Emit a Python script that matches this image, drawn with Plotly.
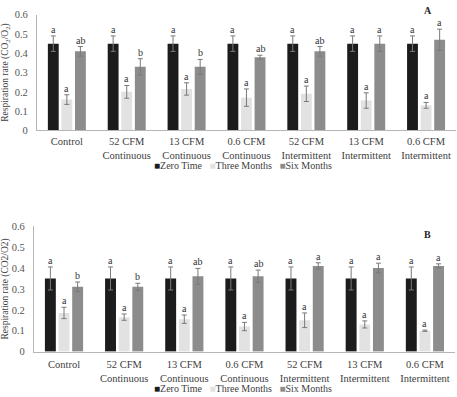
import plotly.graph_objects as go

categories = ["Control", "52 CFM<br>Continuous", "13 CFM<br>Continuous", "0.6 CFM<br>Continuous",
              "52 CFM<br>Intermittent", "13 CFM<br>Intermittent", "0.6 CFM<br>Intermittent"]
series_names = ["Zero Time", "Three Months", "Six Months"]
y_ticks = [0, 0.1, 0.2, 0.3, 0.4, 0.5, 0.6]
y_tick_labels = ["0", "0.1", "0.2", "0.3", "0.4", "0.5", "0.6"]

# Panel A
zero_a = [0.45, 0.45, 0.45, 0.45, 0.45, 0.45, 0.45]
zero_a_err = [0.04, 0.04, 0.04, 0.04, 0.04, 0.04, 0.04]
three_a = [0.16, 0.20, 0.215, 0.17, 0.19, 0.155, 0.13]
three_a_err = [0.025, 0.033, 0.032, 0.045, 0.04, 0.04, 0.015]
six_a = [0.41, 0.33, 0.33, 0.38, 0.41, 0.45, 0.47]
six_a_err = [0.025, 0.042, 0.038, 0.01, 0.025, 0.04, 0.055]
zero_a_lbl = ["a", "a", "a", "a", "a", "a", "a"]
three_a_lbl = ["a", "a", "a", "a", "a", "a", "a"]
six_a_lbl = ["ab", "b", "b", "ab", "ab", "a", "a"]

# Panel B
zero_b = [0.35, 0.35, 0.35, 0.35, 0.35, 0.35, 0.35]
zero_b_err = [0.055, 0.055, 0.055, 0.055, 0.055, 0.055, 0.055]
three_b = [0.185, 0.165, 0.155, 0.12, 0.15, 0.13, 0.10]
three_b_err = [0.027, 0.015, 0.02, 0.02, 0.035, 0.017, 0.003]
six_b = [0.31, 0.31, 0.36, 0.36, 0.41, 0.40, 0.41]
six_b_err = [0.023, 0.017, 0.038, 0.03, 0.015, 0.023, 0.01]
zero_b_lbl = ["a", "a", "a", "a", "a", "a", "a"]
three_b_lbl = ["a", "a", "a", "a", "a", "a", "a"]
six_b_lbl = ["b", "b", "ab", "ab", "a", "a", "a"]

colors = ["#1c1c1c", "#e2e2e2", "#8c8c8c"]
W, H = 457, 397
FONT = "Liberation Serif, Times New Roman, serif"
BARGAP = 0.32

fig = go.Figure()

panels = [
    ("x", "y", [zero_a, three_a, six_a], [zero_a_err, three_a_err, six_a_err],
     [zero_a_lbl, three_a_lbl, six_a_lbl]),
    ("x2", "y2", [zero_b, three_b, six_b], [zero_b_err, three_b_err, six_b_err],
     [zero_b_lbl, three_b_lbl, six_b_lbl]),
]

annotations = []
for xa, ya, vals, errs, lbls in panels:
    for j in range(3):
        fig.add_trace(go.Bar(
            x=categories, y=vals[j], name=series_names[j], xaxis=xa, yaxis=ya,
            marker=dict(color=colors[j], line=dict(width=0)),
            error_y=dict(type="data", array=errs[j], color="#7a7a7a", thickness=1, width=2.5),
            showlegend=False,
        ))
        slot = (1 - BARGAP) / 3
        for i in range(len(categories)):
            annotations.append(dict(
                x=i + (j - 1) * slot, y=vals[j][i] + errs[j][i], xref=xa, yref=ya,
                text=lbls[j][i], showarrow=False, yanchor="bottom", yshift=-1,
                font=dict(family=FONT, size=10, color="#333333"),
            ))

def px_x(p):
    return p / W

def px_y(p):
    return 1 - p / H

axis_common = dict(showgrid=False, zeroline=False, ticks="", fixedrange=True)

fig.update_layout(
    width=W, height=H, margin=dict(l=0, r=0, t=0, b=0),
    paper_bgcolor="white", plot_bgcolor="white",
    barmode="group", bargap=BARGAP, bargroupgap=0.2,
    font=dict(family=FONT, color="#404040"),
    xaxis=dict(domain=[px_x(36), px_x(456)], anchor="y", showline=True, linecolor="#b5b5b5",
               linewidth=1, tickfont=dict(size=10.5, color="#404040"), ticklabelstandoff=1,
               **axis_common),
    yaxis=dict(domain=[px_y(129), px_y(10)], anchor="x", range=[0, 0.6], showline=True,
               linecolor="#b5b5b5", linewidth=1, tickvals=y_ticks, ticktext=y_tick_labels,
               tickfont=dict(size=10.5, color="#555555"), ticklabelstandoff=6,
               title=dict(text="Respiration rate (CO<sub>2</sub>/O<sub>2</sub>)",
                          font=dict(size=9.5, color="#404040"), standoff=5),
               **axis_common),
    xaxis2=dict(domain=[px_x(33), px_x(455)], anchor="y2", showline=True, linecolor="#b5b5b5",
                linewidth=1, tickfont=dict(size=10.5, color="#404040"), ticklabelstandoff=3,
                **axis_common),
    yaxis2=dict(domain=[px_y(356.5), px_y(227.5)], anchor="x2", range=[0, 0.6], showline=True,
                linecolor="#b5b5b5", linewidth=1, tickvals=y_ticks, ticktext=y_tick_labels,
                tickfont=dict(size=10.5, color="#555555"), ticklabelstandoff=6,
                title=dict(text="Respiration rate (CO2/O2)",
                           font=dict(size=9.5, color="#404040"), standoff=5),
                **axis_common),
)

sq = "\u25A0"
sp = "\u00a0\u00a0\u00a0"
legend_text = (f'<span style="color:{colors[0]}">{sq}</span>{series_names[0]}{sp}'
               f'<span style="color:{colors[1]}">{sq}</span>{series_names[1]}{sp}'
               f'<span style="color:{colors[2]}">{sq}</span>{series_names[2]}')
annotations.append(dict(x=px_x(243), y=px_y(165), xref="paper", yref="paper", text=legend_text,
                        showarrow=False, xanchor="center", yanchor="middle",
                        font=dict(family=FONT, size=10, color="#404040")))
annotations.append(dict(x=px_x(243), y=0, xref="paper", yref="paper", text=legend_text,
                        showarrow=False, xanchor="center", yanchor="bottom", borderpad=0,
                        yshift=-4,
                        font=dict(family=FONT, size=10, color="#404040")))

for txt, lx, ly in (("A", 428, 6), ("B", 427, 236)):
    annotations.append(dict(x=px_x(lx), y=px_y(ly), xref="paper", yref="paper",
                            text=f"<b>{txt}</b>", showarrow=False, xanchor="center", yanchor="middle",
                            font=dict(family=FONT, size=10, color="#262626")))

fig.update_layout(annotations=annotations)
fig.write_html("out.html", config={"displayModeBar": False},
               post_script="document.body.style.margin='0';document.body.style.overflow='hidden';")
